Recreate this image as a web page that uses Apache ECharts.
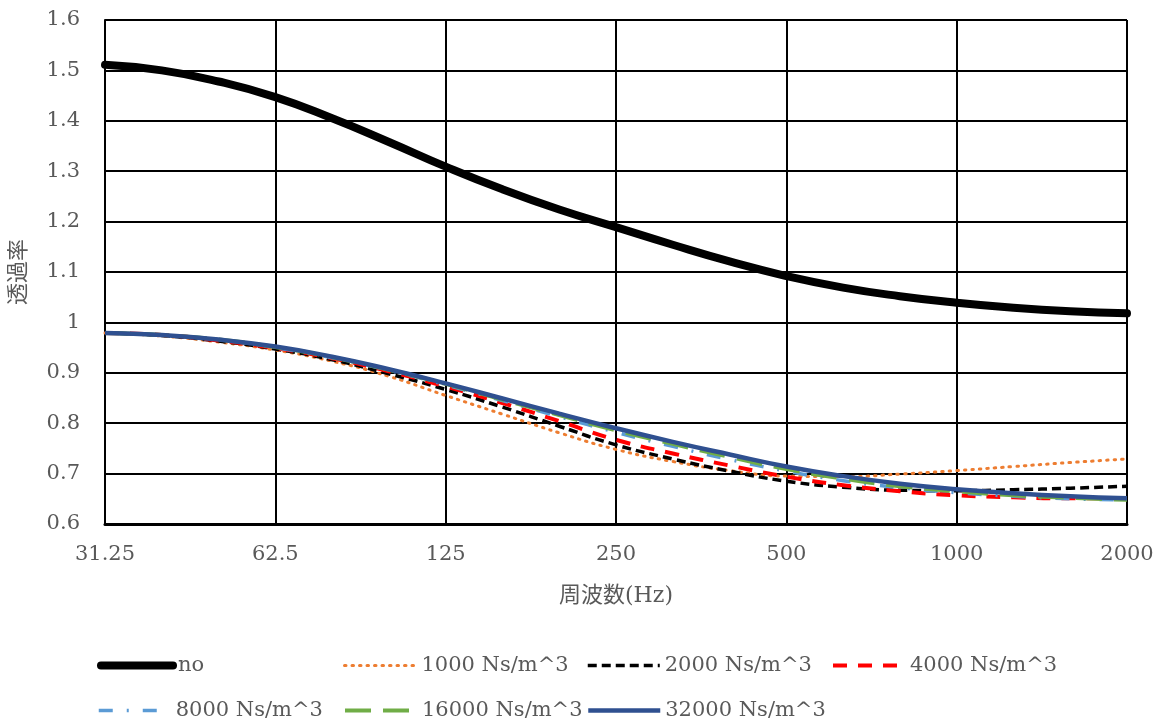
<!DOCTYPE html>
<html>
<head>
<meta charset="utf-8">
<script src="https://cdn.jsdelivr.net/npm/echarts@6/dist/echarts.min.js"></script>
<style>
    html,body{margin:0;padding:0;background:#fff;}
    #main{width:1168px;height:727px;}
</style>
</head>
<body>
<div id="main"></div>
<script>
// 1/3 octave frequencies (Hz)
const freqs = [31.25, 39.37, 49.61, 62.5, 78.75, 99.21, 125, 157.49, 198.43, 250, 314.98, 396.85, 500, 629.96, 793.7, 1000, 1259.92, 1587.4, 2000];
const xTickLabels = ['31.25', '62.5', '125', '250', '500', '1000', '2000'];

const valNo     = [1.511, 1.500, 1.478, 1.447, 1.405, 1.358, 1.309, 1.264, 1.224, 1.189, 1.154, 1.121, 1.092, 1.069, 1.052, 1.039, 1.029, 1.022, 1.018];
const val1000   = [0.979, 0.973, 0.961, 0.945, 0.923, 0.893, 0.855, 0.818, 0.781, 0.748, 0.724, 0.706, 0.695, 0.694, 0.699, 0.706, 0.714, 0.722, 0.729];
const val2000   = [0.979, 0.974, 0.963, 0.947, 0.926, 0.898, 0.867, 0.832, 0.794, 0.757, 0.729, 0.705, 0.685, 0.673, 0.667, 0.666, 0.668, 0.671, 0.675];
const val4000   = [0.979, 0.975, 0.964, 0.949, 0.929, 0.903, 0.873, 0.840, 0.804, 0.767, 0.740, 0.716, 0.694, 0.677, 0.665, 0.657, 0.653, 0.651, 0.651];
const val8000   = [0.979, 0.975, 0.966, 0.950, 0.930, 0.905, 0.876, 0.845, 0.813, 0.782, 0.754, 0.728, 0.705, 0.686, 0.672, 0.662, 0.655, 0.650, 0.648];
const val16000  = [0.979, 0.975, 0.966, 0.951, 0.931, 0.906, 0.878, 0.847, 0.816, 0.786, 0.759, 0.733, 0.709, 0.690, 0.675, 0.665, 0.657, 0.652, 0.648];
const val32000  = [0.979, 0.975, 0.966, 0.952, 0.932, 0.907, 0.879, 0.849, 0.819, 0.790, 0.763, 0.738, 0.714, 0.695, 0.680, 0.669, 0.661, 0.655, 0.651];

const seriesNames = ['no', '1000 Ns/m^3', '2000 Ns/m^3', '4000 Ns/m^3', '8000 Ns/m^3', '16000 Ns/m^3', '32000 Ns/m^3'];

const serifFont = '"DejaVu Serif", "Noto Sans CJK JP", serif';
const txtColor = '#595959';

// x is plotted as octaves above 31.25 Hz (log2 scale)
const toPts = (vals) => vals.map((v, i) => [Math.log2(freqs[i] / freqs[0]), v]);

const lineSeries = (name, vals, color, width, type, cap) => ({
    name: name,
    type: 'line',
    smooth: true,
    symbol: 'none',
    data: toPts(vals),
    lineStyle: {color: color, width: width, type: type, cap: cap || 'butt'},
    itemStyle: {color: color},
    emphasis: {disabled: true}
});

// one legend per entry so the columns line up like the original
const legendPos = [[92, 650], [338, 650], [581, 650], [826, 650], [92, 695], [338, 695], [581, 695]];
const legends = seriesNames.map((nm, i) => ({
    data: [nm],
    left: legendPos[i][0],
    top: legendPos[i][1],
    itemWidth: 72,
    itemHeight: 14,
    itemGap: 0,
    lineStyle: {width: 'inherit'},
    itemStyle: {color: 'rgba(0,0,0,0)', borderWidth: 0},
    textStyle: {fontFamily: serifFont, fontSize: 21, color: txtColor}
}));

const chart = echarts.init(document.getElementById('main'));
chart.setOption({
    animation: false,
    grid: {left: 105, right: 41, top: 20, bottom: 203},
    xAxis: {
        type: 'value',
        min: 0, max: 6, interval: 1,
        name: '周波数(Hz)',
        nameLocation: 'middle',
        nameGap: 61,
        nameTextStyle: {fontFamily: serifFont, fontSize: 22, color: txtColor},
        axisLine: {lineStyle: {color: '#000', width: 3}},
        axisTick: {show: false},
        axisLabel: {
            fontFamily: serifFont, fontSize: 21, color: txtColor, margin: 20,
            formatter: (v) => xTickLabels[Math.round(v)]
        },
        splitLine: {lineStyle: {color: '#000', width: 2}}
    },
    yAxis: {
        type: 'value',
        min: 0.6, max: 1.6, interval: 0.1,
        name: '透過率',
        nameLocation: 'middle',
        nameRotate: 90,
        nameGap: 75,
        nameTextStyle: {fontFamily: serifFont, fontSize: 22, color: txtColor},
        axisLine: {show: true, lineStyle: {color: '#000', width: 2}},
        axisTick: {show: false},
        axisLabel: {
            fontFamily: serifFont, fontSize: 21, color: txtColor, margin: 25,
            formatter: (v) => String(Math.round(v * 10) / 10)
        },
        splitLine: {lineStyle: {color: '#000', width: 2}}
    },
    legend: legends,
    series: [
        lineSeries(seriesNames[0], valNo, '#000000', 8, 'solid', 'round'),
        lineSeries(seriesNames[1], val1000, '#ED7D31', 3, [1.5, 6], 'round'),
        lineSeries(seriesNames[2], val2000, '#000000', 3.5, [9, 5]),
        lineSeries(seriesNames[3], val4000, '#FF0000', 4, [14, 11]),
        lineSeries(seriesNames[4], val8000, '#5B9BD5', 3.5, [14, 14, 2, 14]),
        lineSeries(seriesNames[5], val16000, '#70AD47', 4, [26, 12]),
        lineSeries(seriesNames[6], val32000, '#2F5090', 4.5, 'solid')
    ]
});
</script>
</body>
</html>
